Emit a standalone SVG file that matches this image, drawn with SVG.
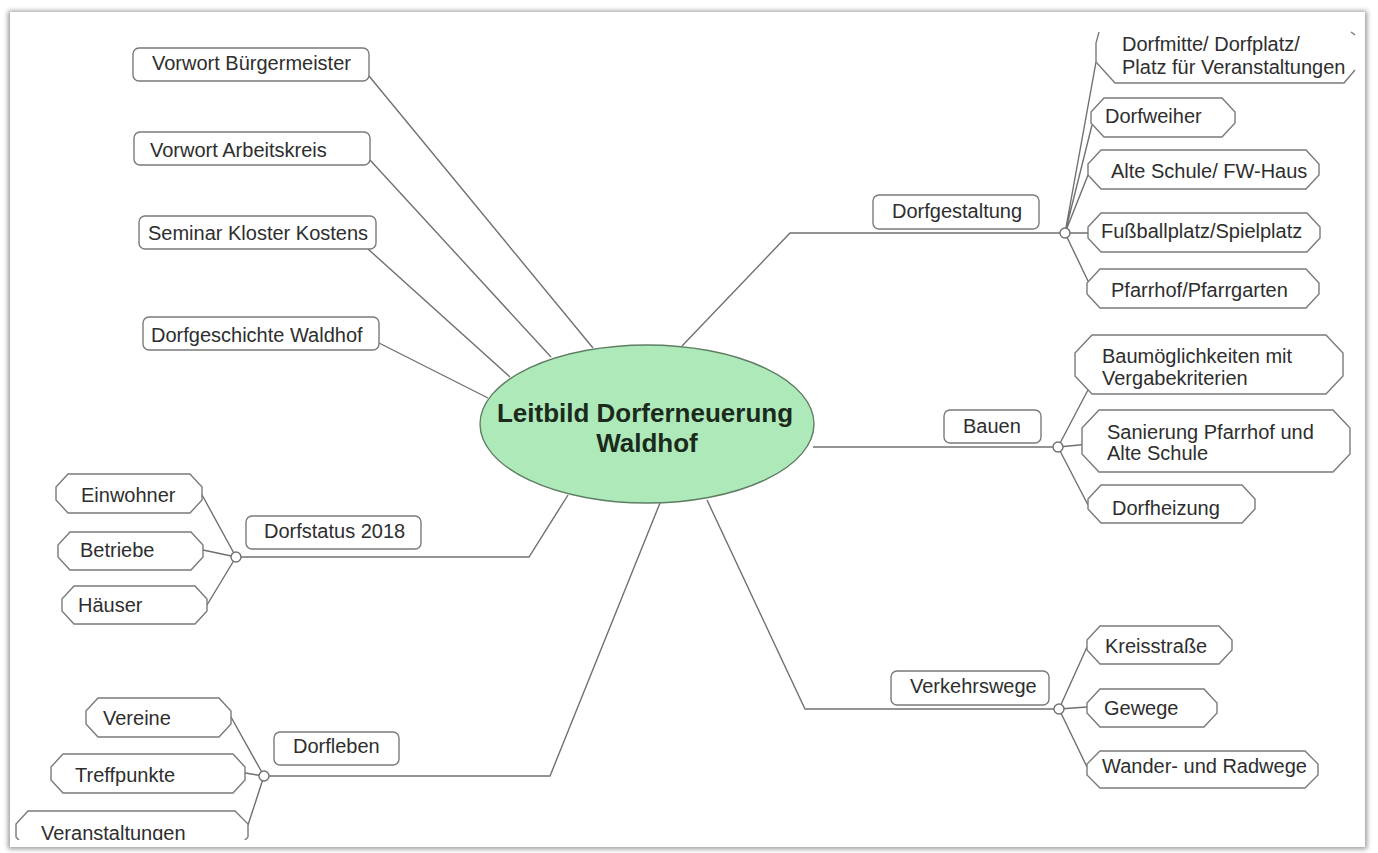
<svg xmlns="http://www.w3.org/2000/svg" width="1378" height="853" viewBox="0 0 1378 853">
<defs>
<filter id="sh" x="-5%" y="-5%" width="110%" height="110%"><feGaussianBlur stdDeviation="2.5"/></filter>
<clipPath id="pg"><rect x="10" y="12" width="1355" height="828"/></clipPath>
<style>
.t{font-family:"Liberation Sans",Arial,sans-serif;font-size:20px;fill:#2e2e2e}
.b{fill:#fff;stroke:#7a7a7a;stroke-width:1.4}
.c{fill:none;stroke:#707070;stroke-width:1.4}
.j{fill:#fff;stroke:#707070;stroke-width:1.4}
.ct{font-family:"Liberation Sans",Arial,sans-serif;font-size:26px;font-weight:bold;fill:#1c2a1e;text-anchor:middle}
</style>
</defs>
<rect width="1378" height="853" fill="#fff"/>
<rect x="8" y="11" width="1359" height="838" fill="#9a9a9a" filter="url(#sh)"/>
<rect x="10" y="12" width="1355" height="835" fill="#fff"/>
<g clip-path="url(#pg)">
<g id="connectors">
<path class="c" d="M369,76 L593,348"/>
<path class="c" d="M370,160 L551,357"/>
<path class="c" d="M368,249 L510,377"/>
<path class="c" d="M379,343 L488,398"/>
<path class="c" d="M682,346 L790,233 L1060,233"/>
<path class="c" d="M813,447 L1053,447"/>
<path class="c" d="M707,500 L805,709 L1054,709"/>
<path class="c" d="M660,503 L550,776 L269,776"/>
<path class="c" d="M568,495 L529,557 L241,557"/>
<path class="c" d="M1065,233 L1096,62 M1065,233 L1092,125 M1065,233 L1088,175 M1065,233 L1088,233 M1065,233 L1088,281"/>
<path class="c" d="M1058,447 L1089,388 M1058,447 L1090,444 M1058,447 L1088,505"/>
<path class="c" d="M1059,709 L1087,647 M1059,709 L1087,707 M1059,709 L1087,767"/>
<path class="c" d="M236,557 L201,493 M236,557 L203,550 M236,557 L207,605"/>
<path class="c" d="M264,776 L231,717 M264,776 L245,773 M264,776 L248,825"/>
<circle class="j" cx="1065" cy="233" r="5"/>
<circle class="j" cx="1058" cy="447" r="5"/>
<circle class="j" cx="1059" cy="709" r="5"/>
<circle class="j" cx="236" cy="557" r="5"/>
<circle class="j" cx="264" cy="776" r="5"/>
</g>
<g id="center">
<ellipse cx="647" cy="424" rx="167" ry="79" fill="#aeeab9" stroke="#5f7d63" stroke-width="1.4"/>
<text class="ct" x="645" y="422">Leitbild Dorferneuerung</text>
<text class="ct" x="647" y="452">Waldhof</text>
</g>
<g id="n-vorwort-bm"><rect class="b" x="133" y="48" width="236" height="33" rx="6"/><text class="t" x="152" y="70">Vorwort Bürgermeister</text></g>
<g id="n-vorwort-ak"><rect class="b" x="134" y="132" width="236" height="33" rx="6"/><text class="t" x="150" y="157">Vorwort Arbeitskreis</text></g>
<g id="n-seminar"><rect class="b" x="139" y="216" width="237" height="33" rx="6"/><text class="t" x="148" y="240">Seminar Kloster Kostens</text></g>
<g id="n-geschichte"><rect class="b" x="143" y="317" width="236" height="33" rx="6"/><text class="t" x="151" y="342">Dorfgeschichte Waldhof</text></g>
<g id="n-dorfgestaltung"><rect class="b" x="873" y="195" width="166" height="34" rx="6"/><text class="t" x="892" y="218">Dorfgestaltung</text></g>
<g id="n-bauen"><rect class="b" x="944" y="410" width="97" height="33" rx="6"/><text class="t" x="963" y="433">Bauen</text></g>
<g id="n-verkehrswege"><rect class="b" x="891" y="671" width="158" height="34" rx="6"/><text class="t" x="910" y="693">Verkehrswege</text></g>
<g id="n-dorfstatus"><rect class="b" x="246" y="516" width="175" height="33" rx="6"/><text class="t" x="264" y="538">Dorfstatus 2018</text></g>
<g id="n-dorfleben"><rect class="b" x="274" y="732" width="125" height="33" rx="6"/><text class="t" x="293" y="753">Dorfleben</text></g>
<g id="n-dorfmitte"><path class="b" d="M1099,32 L1096,43 L1096,62 L1115,83 L1344,83 L1355,70 M1351,32 L1355,35" style="fill:none"/><text class="t" x="1122" y="51">Dorfmitte/ Dorfplatz/</text><text class="t" x="1122" y="74">Platz für Veranstaltungen</text></g>
<g id="n-dorfweiher"><polygon class="b" points="1104,98 1222,98 1235,112 1235,123 1222,137 1104,137 1091,123 1091,112"/><text class="t" x="1105" y="123">Dorfweiher</text></g>
<g id="n-alteschule"><polygon class="b" points="1101,150 1306,150 1319,164 1319,175 1306,189 1101,189 1088,175 1088,164"/><text class="t" x="1111" y="178">Alte Schule/ FW-Haus</text></g>
<g id="n-fussball"><polygon class="b" points="1101,213 1307,213 1320,227 1320,238 1307,252 1101,252 1088,238 1088,227"/><text class="t" x="1101" y="238">Fußballplatz/Spielplatz</text></g>
<g id="n-pfarrhof"><polygon class="b" points="1100,269 1306,269 1319,283 1319,294 1306,308 1100,308 1087,294 1087,283"/><text class="t" x="1111" y="297">Pfarrhof/Pfarrgarten</text></g>
<g id="n-baumoeglichkeiten"><polygon class="b" points="1092,335 1326,335 1343,353 1343,376 1326,394 1092,394 1075,376 1075,353"/><text class="t" x="1102" y="363">Baumöglichkeiten mit</text><text class="t" x="1102" y="385">Vergabekriterien</text></g>
<g id="n-sanierung"><polygon class="b" points="1099,410 1333,410 1350,428 1350,454 1333,472 1099,472 1082,454 1082,428"/><text class="t" x="1107" y="439">Sanierung Pfarrhof und</text><text class="t" x="1107" y="460">Alte Schule</text></g>
<g id="n-dorfheizung"><polygon class="b" points="1101,485 1242,485 1255,499 1255,509 1242,523 1101,523 1088,509 1088,499"/><text class="t" x="1112" y="515">Dorfheizung</text></g>
<g id="n-kreisstrasse"><polygon class="b" points="1100,626 1219,626 1232,640 1232,650 1219,664 1100,664 1087,650 1087,640"/><text class="t" x="1105" y="653">Kreisstraße</text></g>
<g id="n-gewege"><polygon class="b" points="1100,689 1204,689 1217,703 1217,713 1204,727 1100,727 1087,713 1087,703"/><text class="t" x="1104" y="715">Gewege</text></g>
<g id="n-wander"><polygon class="b" points="1100,751 1305,751 1318,764 1318,775 1305,788 1100,788 1087,775 1087,764"/><text class="t" x="1102" y="773">Wander- und Radwege</text></g>
<g id="n-einwohner"><polygon class="b" points="68,474 190,474 202,487 202,500 190,513 68,513 56,500 56,487"/><text class="t" x="81" y="502">Einwohner</text></g>
<g id="n-betriebe"><polygon class="b" points="70,532 191,532 203,545 203,557 191,570 70,570 58,557 58,545"/><text class="t" x="80" y="557">Betriebe</text></g>
<g id="n-haeuser"><polygon class="b" points="74,586 195,586 207,599 207,611 195,624 74,624 62,611 62,599"/><text class="t" x="78" y="612">Häuser</text></g>
<g id="n-vereine"><polygon class="b" points="98,698 219,698 231,711 231,724 219,737 98,737 86,724 86,711"/><text class="t" x="103" y="725">Vereine</text></g>
<g id="n-treffpunkte"><polygon class="b" points="63,754 233,754 245,767 245,780 233,793 63,793 51,780 51,767"/><text class="t" x="75" y="782">Treffpunkte</text></g>
<g id="n-veranstaltungen"><polygon class="b" points="28,811 235,811 248,824 248,837 235,850 28,850 16,837 16,824"/><text class="t" x="41" y="840">Veranstaltungen</text></g>
</g>
</svg>
